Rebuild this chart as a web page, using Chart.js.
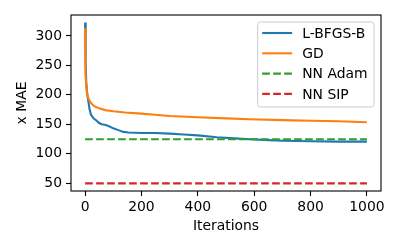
<!DOCTYPE html>
<html>
<head>
<meta charset="utf-8">
<script src="https://cdn.jsdelivr.net/npm/chart.js@4/dist/chart.umd.min.js"></script>
<style>
  html, body { margin: 0; padding: 0; background: #ffffff; }
  #wrap { width: 400px; height: 250px; }
</style>
</head>
<body>
<div id="wrap"><canvas id="c" width="400" height="250"></canvas></div>
<script>
// ---- data ----
const seriesNames = ["L-BFGS-B", "GD", "NN Adam", "NN SIP"];
const lbfgsIter = [0, 2, 4, 8, 12, 16, 21, 30, 41, 50, 59, 70, 83, 100, 118, 136, 154, 200, 248, 300, 350, 400, 467, 530, 585, 650, 703, 800, 900, 1000];
const lbfgsMAE  = [323, 255, 222, 200, 188, 175, 166, 160, 156, 152, 150, 149, 147, 143, 140, 137, 136, 135, 135, 134, 132.5, 131, 128, 126, 124.6, 123, 122, 121, 120.5, 120.5];
const gdIter = [0, 1, 2, 4, 6, 10, 18, 25, 35, 50, 71, 100, 142, 200, 248, 300, 400, 500, 585, 700, 800, 900, 1000];
const gdMAE  = [313, 260, 235, 215, 205, 196, 188, 184, 180, 177, 174, 172, 170, 168, 166, 164, 162, 160, 158.6, 157, 156, 155, 153.5];
const baselineIter = [0, 1000];
const nnAdamMAE = [124.6, 124.6];
const nnSipMAE  = [49.5, 49.5];
const xTicks = [0, 200, 400, 600, 800, 1000];
const yTicks = [50, 100, 150, 200, 250, 300];
const xLabel = "Iterations";
const yLabel = "x MAE";

const FONT = "'DejaVu Sans', sans-serif";
const FS = 13.9;
const colors = ["#1f77b4", "#ff7f0e", "#2ca02c", "#d62728"];

function pts(xs, ys) { return xs.map((x, i) => ({ x: x, y: ys[i] })); }

const dash = [7.7, 3.3];

const frameAndLegend = {
  id: 'frameAndLegend',
  afterDatasetsDraw(chart) {
    const ctx = chart.ctx;
    const a = chart.chartArea;
    ctx.save();
    // spines
    ctx.strokeStyle = '#000000';
    ctx.lineWidth = 1.1;
    ctx.strokeRect(a.left, a.top, a.right - a.left, a.bottom - a.top);

    // legend (upper right, inside axes)
    ctx.font = FS + 'px ' + FONT;
    let maxW = 0;
    seriesNames.forEach(n => { maxW = Math.max(maxW, ctx.measureText(n).width); });
    const pad = 4.5, handleLen = 30, textPad = 10;
    const boxRight = a.right - 7, boxTop = a.top + 7;
    const boxW = pad + handleLen + textPad + maxW + 6.5;
    const rowH = 20.3;
    const boxH = 85;
    const boxLeft = boxRight - boxW;
    const r = 2.8;
    ctx.beginPath();
    ctx.moveTo(boxLeft + r, boxTop);
    ctx.lineTo(boxRight - r, boxTop);
    ctx.arcTo(boxRight, boxTop, boxRight, boxTop + r, r);
    ctx.lineTo(boxRight, boxTop + boxH - r);
    ctx.arcTo(boxRight, boxTop + boxH, boxRight - r, boxTop + boxH, r);
    ctx.lineTo(boxLeft + r, boxTop + boxH);
    ctx.arcTo(boxLeft, boxTop + boxH, boxLeft, boxTop + boxH - r, r);
    ctx.lineTo(boxLeft, boxTop + r);
    ctx.arcTo(boxLeft, boxTop, boxLeft + r, boxTop, r);
    ctx.closePath();
    ctx.fillStyle = 'rgba(255,255,255,0.8)';
    ctx.fill();
    ctx.strokeStyle = '#cccccc';
    ctx.lineWidth = 1;
    ctx.stroke();

    seriesNames.forEach((n, i) => {
      const cy = boxTop + 11 + i * rowH;
      const hx = boxLeft + pad;
      ctx.beginPath();
      ctx.strokeStyle = colors[i];
      ctx.lineWidth = 2.1;
      ctx.setLineDash(i >= 2 ? dash : []);
      ctx.moveTo(hx, cy);
      ctx.lineTo(hx + handleLen, cy);
      ctx.stroke();
      ctx.setLineDash([]);
      ctx.fillStyle = '#000000';
      ctx.textAlign = 'left';
      ctx.textBaseline = 'middle';
      ctx.fillText(n, hx + handleLen + textPad, cy + 1);
    });
    ctx.restore();
  }
};

new Chart(document.getElementById('c'), {
  type: 'line',
  data: {
    datasets: [
      { label: seriesNames[0], data: pts(lbfgsIter, lbfgsMAE), borderColor: colors[0], borderWidth: 2.1, pointRadius: 0, fill: false, tension: 0, order: 3 },
      { label: seriesNames[1], data: pts(gdIter, gdMAE), borderColor: colors[1], borderWidth: 2.1, pointRadius: 0, fill: false, tension: 0, order: 2 },
      { label: seriesNames[2], data: pts(baselineIter, nnAdamMAE), borderColor: colors[2], borderWidth: 2.1, borderDash: dash, pointRadius: 0, fill: false, order: 1 },
      { label: seriesNames[3], data: pts(baselineIter, nnSipMAE), borderColor: colors[3], borderWidth: 2.1, borderDash: dash, pointRadius: 0, fill: false, order: 0 }
    ]
  },
  options: {
    responsive: false,
    animation: false,
    devicePixelRatio: 1,
    layout: { padding: { left: 0, right: 19, top: 15, bottom: 0 } },
    plugins: { legend: { display: false }, tooltip: { enabled: false } },
    scales: {
      x: {
        type: 'linear',
        min: -50, max: 1050,
        afterBuildTicks: s => { s.ticks = xTicks.map(v => ({ value: v })); },
        afterFit: s => { s.height = 59; },
        grid: { display: true, drawOnChartArea: false, drawTicks: true, tickLength: 5, tickWidth: 1.1, tickColor: '#000000' },
        border: { display: false },
        ticks: { color: '#000000', padding: 3, maxRotation: 0, font: { family: FONT, size: FS }, callback: v => String(v) },
        title: { display: true, text: xLabel, color: '#000000', font: { family: FONT, size: FS }, padding: { top: 0, bottom: 15 } }
      },
      y: {
        type: 'linear',
        min: 36.5, max: 335.7,
        afterBuildTicks: s => { s.ticks = yTicks.map(v => ({ value: v })); },
        afterFit: s => { s.width = 71; },
        grid: { display: true, drawOnChartArea: false, drawTicks: true, tickLength: 5, tickWidth: 1.1, tickColor: '#000000' },
        border: { display: false },
        ticks: { color: '#000000', padding: 4, font: { family: FONT, size: FS }, callback: v => String(v) },
        title: { display: true, text: yLabel, color: '#000000', font: { family: FONT, size: FS }, padding: { top: 14.5, bottom: 0 } }
      }
    }
  },
  plugins: [frameAndLegend]
});
</script>
</body>
</html>
